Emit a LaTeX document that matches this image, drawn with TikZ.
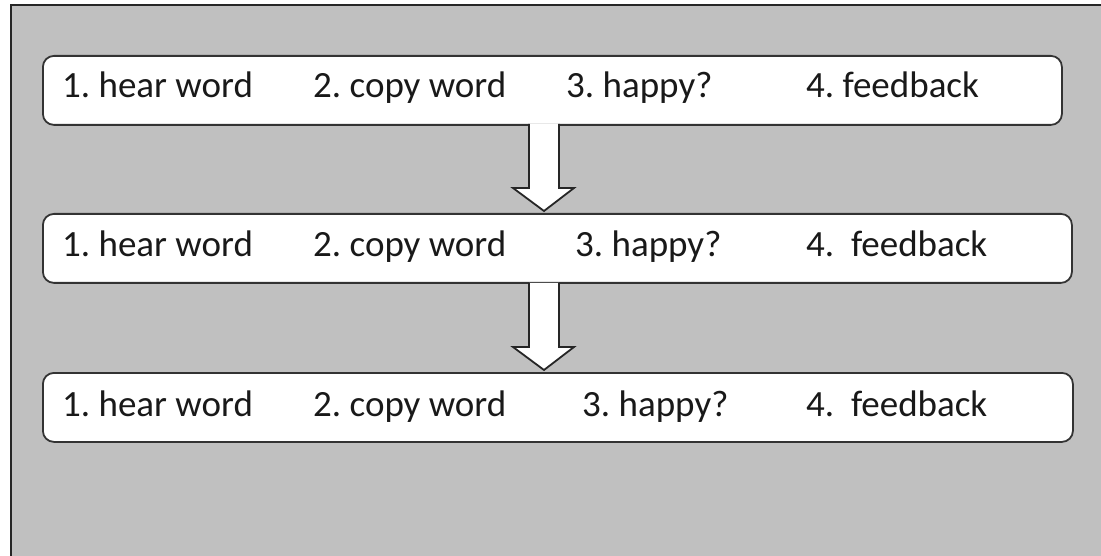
\documentclass[tikz,border=0pt]{standalone}
\usepackage{fontspec}
\setmainfont{Carlito}
\begin{document}
\frenchspacing
\begin{tikzpicture}[x=1pt,y=-1pt,
  rowbox/.style={draw=black!80, line width=1.8, fill=white, rounded corners=11, inner sep=0, anchor=north west},
  lbl/.style={anchor=base west, inner sep=0, font=\fontsize{37}{40}\selectfont\frenchspacing, text=black!90},
  blockarrow/.style={draw=black!85, line width=1.8, fill=white, line join=miter}]
\useasboundingbox (0,0) rectangle (1101,556);
\fill[white] (0,0) rectangle (1101,556);
\path[fill={rgb,255:red,192;green,192;blue,192}] (11,5) rectangle (1104,560);
\draw[draw=black!85, line width=2] (11,560) -- (11,5) -- (1104,5);
% boxes
\node[rowbox, minimum width=1019, minimum height=69] (r1) at (42,55) {};
\node[rowbox, minimum width=1029, minimum height=69] (r2) at (42,213) {};
\node[rowbox, minimum width=1030, minimum height=69] (r3) at (42,372) {};
% arrows
\draw[blockarrow] (529,124) -- (529,188) -- (513,188) -- (544,211) -- (574,188) -- (559,188) -- (559,124);
\draw[blockarrow] (529,283) -- (529,347) -- (513,347) -- (544,370) -- (574,347) -- (559,347) -- (559,283);
% labels row 1
\node[lbl] (t11) at (62,98) {1. hear word};
\node[lbl] (t12) at (313,98) {2. copy word};
\node[lbl] (t13) at (566,98) {3. happy?};
\node[lbl] (t14) at (806,98) {4. feedback};
% labels row 2
\node[lbl] (t21) at (62,257) {1. hear word};
\node[lbl] (t22) at (313,257) {2. copy word};
\node[lbl] (t23) at (575,257) {3. happy?};
\node[lbl] (t24) at (806,257) {4.\ \ feedback};
% labels row 3
\node[lbl] (t31) at (62,416) {1. hear word};
\node[lbl] (t32) at (313,416) {2. copy word};
\node[lbl] (t33) at (582,416) {3. happy?};
\node[lbl] (t34) at (806,416) {4.\ \ feedback};
\end{tikzpicture}
\end{document}
